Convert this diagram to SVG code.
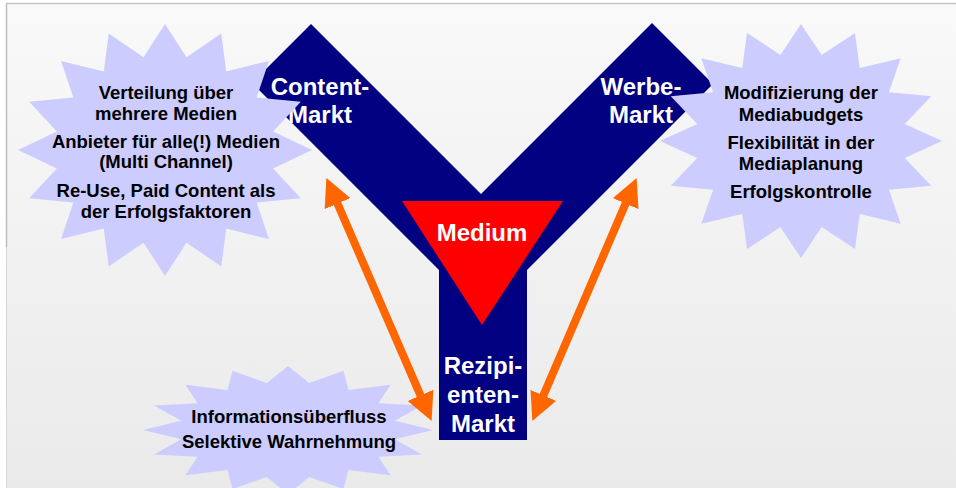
<svg xmlns="http://www.w3.org/2000/svg" xmlns:xlink="http://www.w3.org/1999/xlink" width="956" height="488" viewBox="0 0 956 488">
<style>
text{font-family:"Liberation Sans",Arial,sans-serif;font-weight:bold;text-anchor:middle}
.w{fill:#ffffff;font-size:24px}
.b{fill:#000000;font-size:18.5px}
.star{fill:#ccccff}
.arrow{stroke:#ff6600;stroke-width:8;fill:none}
</style>
<defs>
<linearGradient id="bg" x1="0" y1="0" x2="0" y2="1">
<stop offset="0" stop-color="#f9f9f9"/>
<stop offset="1" stop-color="#eaeaea"/>
</linearGradient>
<polygon id="star16" points="0,-1 0.1463,-0.7356 0.3827,-0.9239 0.4167,-0.6236 0.7071,-0.7071 0.6236,-0.4167 0.9239,-0.3827 0.7356,-0.1463 1,0 0.7356,0.1463 0.9239,0.3827 0.6236,0.4167 0.7071,0.7071 0.4167,0.6236 0.3827,0.9239 0.1463,0.7356 0,1 -0.1463,0.7356 -0.3827,0.9239 -0.4167,0.6236 -0.7071,0.7071 -0.6236,0.4167 -0.9239,0.3827 -0.7356,0.1463 -1,0 -0.7356,-0.1463 -0.9239,-0.3827 -0.6236,-0.4167 -0.7071,-0.7071 -0.4167,-0.6236 -0.3827,-0.9239 -0.1463,-0.7356"/>
<marker id="head" viewBox="0 0 28 28" markerWidth="28" markerHeight="28" markerUnits="userSpaceOnUse" refX="1" refY="14" orient="auto-start-reverse">
<path d="M0,0 L28,14 L0,28 z" fill="#ff6600"/>
</marker>
</defs>
<rect x="0" y="0" width="956" height="488" fill="#ffffff"/>
<rect x="6" y="3" width="950" height="485" fill="url(#bg)"/>
<line x1="6" y1="3.5" x2="956" y2="3.5" stroke="#c6c6c6" stroke-width="1.5"/>
<line x1="6.5" y1="3" x2="6.5" y2="247" stroke="#bdbdbd" stroke-width="1.5"/>
<line x1="6.5" y1="247" x2="6.5" y2="488" stroke="#d6d6d6" stroke-width="1"/>

<g id="y-shape">
<polygon points="311,24 481,194 652,23 713,84 527,270 527,440 439,440 439,270 252,83" fill="#000080"/>
<text class="w" x="320" y="95">Content-</text>
<text class="w" x="320" y="123">Markt</text>
<text class="w" x="641" y="95">Werbe-</text>
<text class="w" x="641" y="123">Markt</text>
<text class="w" x="483" y="374">Rezipi-</text>
<text class="w" x="483" y="403">enten-</text>
<text class="w" x="483" y="432">Markt</text>
</g>

<g id="medium">
<polygon points="402,201 563,201 482,325" fill="#ff0000"/>
<text class="w" x="482" y="241">Medium</text>
</g>

<g id="star-content">
<use xlink:href="#star16" class="star" transform="translate(165,150) scale(147,126)"/>
<text class="b" x="166" y="99">Verteilung über</text>
<text class="b" x="166" y="120">mehrere Medien</text>
<text class="b" x="166" y="148">Anbieter für alle(!) Medien</text>
<text class="b" x="166" y="168">(Multi Channel)</text>
<text class="b" x="166" y="197">Re-Use, Paid Content als</text>
<text class="b" x="166" y="218">der Erfolgsfaktoren</text>
</g>

<g id="star-werbe">
<use xlink:href="#star16" class="star" transform="translate(801,141) scale(141,117)"/>
<text class="b" x="801" y="99">Modifizierung der</text>
<text class="b" x="801" y="121">Mediabudgets</text>
<text class="b" x="801" y="149">Flexibilität in der</text>
<text class="b" x="801" y="170">Mediaplanung</text>
<text class="b" x="801" y="198">Erfolgskontrolle</text>
</g>

<g id="star-rezipienten">
<use xlink:href="#star16" class="star" transform="translate(288,430) scale(145,64)"/>
<text class="b" x="289" y="423">Informationsüberfluss</text>
<text class="b" x="289" y="448">Selektive Wahrnehmung</text>
</g>

<g id="connectors">
<line class="arrow" x1="337.1" y1="202.7" x2="420.9" y2="396.3" marker-start="url(#head)" marker-end="url(#head)"/>
<line class="arrow" x1="626" y1="202.7" x2="543" y2="396.3" marker-start="url(#head)" marker-end="url(#head)"/>
</g>
</svg>
